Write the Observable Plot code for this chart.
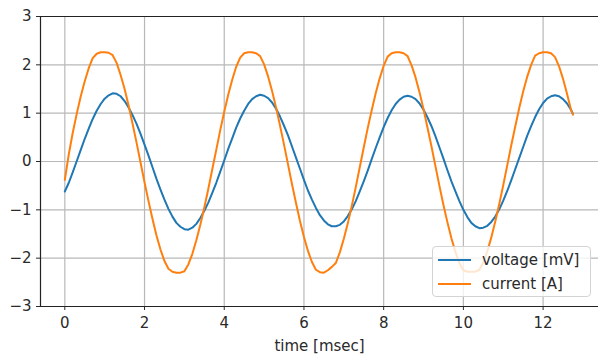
<!DOCTYPE html>
<html>
<head>
<meta charset="utf-8">
<script src="https://cdn.jsdelivr.net/npm/d3@7"></script>
<script src="https://cdn.jsdelivr.net/npm/@observablehq/plot@0.6"></script>
<style>
  html, body { margin: 0; padding: 0; background: white; }
  #wrap { position: relative; width: 598px; height: 356px; font-family: "DejaVu Sans", sans-serif; }
  #legend { position: absolute; left: 432px; top: 246px; width: 159px; height: 51px; box-sizing: border-box;
    border: 1px solid #d4d4d4; border-radius: 4px; background: rgba(255,255,255,0.8); font-size: 15px; color: #2a2a2a; }
  .row { position: absolute; left: 0; height: 20px; display: flex; align-items: center; }
  .sw { width: 33px; height: 2px; margin-left: 5px; margin-right: 11px; }
</style>
</head>
<body>
<div id="wrap"></div>
<script>
const times = [0,0.1,0.2,0.3,0.4,0.5,0.6,0.7,0.8,0.9,1.0,1.1,1.2,1.3,1.4,1.5,1.6,1.7,1.8,1.9,
2.0,2.1,2.2,2.3,2.4,2.5,2.6,2.7,2.8,2.9,3.0,3.1,3.2,3.3,3.4,3.5,3.6,3.7,3.8,3.9,
4.0,4.1,4.2,4.3,4.4,4.5,4.6,4.7,4.8,4.9,5.0,5.1,5.2,5.3,5.4,5.5,5.6,5.7,5.8,5.9,
6.0,6.1,6.2,6.3,6.4,6.5,6.6,6.7,6.8,6.9,7.0,7.1,7.2,7.3,7.4,7.5,7.6,7.7,7.8,7.9,
8.0,8.1,8.2,8.3,8.4,8.5,8.6,8.7,8.8,8.9,9.0,9.1,9.2,9.3,9.4,9.5,9.6,9.7,9.8,9.9,
10.0,10.1,10.2,10.3,10.4,10.5,10.6,10.7,10.8,10.9,11.0,11.1,11.2,11.3,11.4,11.5,11.6,11.7,11.8,11.9,
12.0,12.1,12.2,12.3,12.4,12.5,12.6,12.7,12.75];

const voltage = [-0.62,-0.44,-0.22,0.01,0.24,0.47,0.68,0.88,1.05,1.19,1.30,1.37,1.41,1.40,1.35,1.25,1.12,0.96,0.78,0.57,
0.35,0.12,-0.12,-0.36,-0.58,-0.79,-0.98,-1.14,-1.27,-1.35,-1.40,-1.41,-1.37,-1.29,-1.17,-1.02,-0.85,-0.65,-0.44,-0.21,
0.02,0.26,0.48,0.70,0.89,1.05,1.19,1.29,1.35,1.38,1.36,1.31,1.22,1.09,0.93,0.74,0.54,0.31,0.08,-0.15,
-0.38,-0.60,-0.79,-0.96,-1.11,-1.22,-1.30,-1.34,-1.34,-1.31,-1.24,-1.13,-0.99,-0.82,-0.62,-0.41,-0.19,0.05,0.28,0.50,
0.71,0.90,1.06,1.19,1.28,1.34,1.36,1.34,1.29,1.20,1.07,0.91,0.73,0.52,0.29,0.06,-0.18,-0.41,-0.62,-0.82,
-1.00,-1.15,-1.27,-1.34,-1.38,-1.37,-1.33,-1.25,-1.14,-0.99,-0.81,-0.61,-0.39,-0.16,0.07,0.30,0.53,0.73,0.92,1.08,
1.21,1.30,1.35,1.37,1.35,1.29,1.20,1.07,0.98];

const current = [-0.38,0.15,0.60,0.99,1.35,1.66,1.93,2.14,2.23,2.26,2.26,2.25,2.20,2.04,1.79,1.50,1.16,0.78,0.39,-0.02,
-0.43,-0.82,-1.19,-1.53,-1.82,-2.06,-2.22,-2.28,-2.30,-2.30,-2.27,-2.13,-1.91,-1.63,-1.31,-0.95,-0.57,-0.16,0.24,0.65,
1.03,1.38,1.69,1.96,2.15,2.24,2.26,2.26,2.24,2.18,2.01,1.76,1.46,1.12,0.74,0.35,-0.06,-0.47,-0.86,-1.23,
-1.56,-1.85,-2.08,-2.24,-2.29,-2.30,-2.25,-2.18,-2.10,-1.88,-1.60,-1.28,-0.92,-0.53,-0.12,0.29,0.69,1.06,1.41,1.72,
1.98,2.17,2.24,2.26,2.26,2.24,2.18,1.99,1.74,1.43,1.08,0.70,0.31,-0.10,-0.51,-0.90,-1.26,-1.59,-1.87,-2.10,
-2.25,-2.28,-2.28,-2.28,-2.24,-2.09,-1.86,-1.57,-1.24,-0.88,-0.49,-0.08,0.33,0.72,1.10,1.45,1.75,2.00,2.19,2.24,
2.26,2.26,2.24,2.16,1.97,1.71,1.40,1.07,0.97];

const xTicks = [0,2,4,6,8,10,12];
const yTicks = [-3,-2,-1,0,1,2,3];
const seriesNames = ["voltage [mV]", "current [A]"];
const seriesColors = ["#1f77b4", "#ff7f0e"];
const xLabel = "time [msec]";

const data = times.map((t, i) => ({t, v: voltage[i], c: current[i]}));

const chart = Plot.plot({
  width: 598, height: 356,
  marginLeft: 40, marginRight: 0, marginTop: 16, marginBottom: 50,
  style: {fontFamily: "DejaVu Sans", fontSize: "15px", color: "#2a2a2a", background: "white", overflow: "visible"},
  x: {domain: [-0.61, 13.39]},
  y: {domain: [-3, 3]},
  marks: [
    Plot.gridX(xTicks, {stroke: "#b8b8b8", strokeOpacity: 1, strokeWidth: 1.2}),
    Plot.gridY(yTicks, {stroke: "#b8b8b8", strokeOpacity: 1, strokeWidth: 1.2}),
    Plot.line(data, {x: "t", y: "v", stroke: seriesColors[0], strokeWidth: 2}),
    Plot.line(data, {x: "t", y: "c", stroke: seriesColors[1], strokeWidth: 2}),
    Plot.frame({anchor: "left", stroke: "#222", strokeWidth: 1.2}),
    Plot.frame({anchor: "top", stroke: "#222", strokeWidth: 1.2}),
    Plot.frame({anchor: "bottom", stroke: "#222", strokeWidth: 1.2}),
    Plot.axisX(xTicks, {tickSize: 4, tickPadding: 7, fontSize: 15, label: xLabel, labelAnchor: "center", labelArrow: "none", labelOffset: 44}),
    Plot.axisY(yTicks, {tickSize: 4, tickPadding: 5, fontSize: 15, label: null})
  ]
});
const wrap = document.getElementById("wrap");
wrap.appendChild(chart);

const legend = document.createElement("div");
legend.id = "legend";
seriesNames.forEach((name, i) => {
  const row = document.createElement("div");
  row.className = "row";
  row.style.top = (i === 0 ? 3 : 27) + "px";
  const sw = document.createElement("span");
  sw.className = "sw";
  sw.style.background = seriesColors[i];
  const tx = document.createElement("span");
  tx.textContent = name;
  row.appendChild(sw); row.appendChild(tx);
  legend.appendChild(row);
});
wrap.appendChild(legend);
</script>
</body>
</html>
